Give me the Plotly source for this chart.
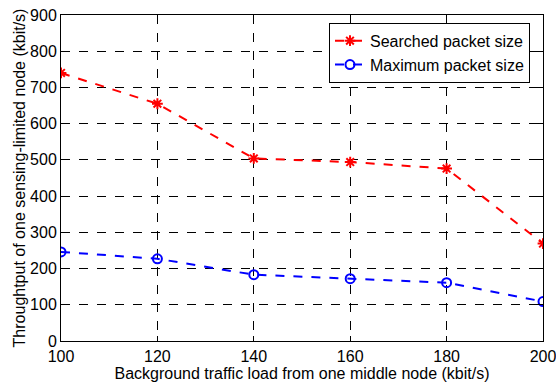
import plotly.graph_objects as go

# Background traffic load (kbit/s) and throughput of the sensing-limited node (kbit/s)
traffic_load = [100, 120, 140, 160, 180, 200]
searched_size = [740, 655, 504, 494, 476, 269]
maximum_size = [246, 227, 183, 172, 161, 109]

x_ticks = [100, 120, 140, 160, 180, 200]
y_ticks = [0, 100, 200, 300, 400, 500, 600, 700, 800, 900]

FONT = "Liberation Sans, Arial, sans-serif"

fig = go.Figure()
fig.add_trace(go.Scatter(
    x=traffic_load, y=searched_size, name="Searched packet size",
    mode="lines+markers",
    line=dict(color="#ff0000", width=2, dash="dash"),
    marker=dict(symbol="asterisk-open", size=9, color="#ff0000",
                line=dict(width=2, color="#ff0000")),
))
fig.add_trace(go.Scatter(
    x=traffic_load, y=maximum_size, name="Maximum packet size",
    mode="lines+markers",
    line=dict(color="#0000ff", width=2, dash="dash"),
    marker=dict(symbol="circle-open", size=9, color="#0000ff",
                line=dict(width=2, color="#0000ff")),
))

axis_common = dict(
    showline=True, linecolor="black", linewidth=1, mirror="ticks",
    ticks="inside", ticklen=5, tickcolor="black",
    showgrid=True, gridcolor="black", griddash="dash", gridwidth=1,
    zeroline=False, ticklabeloverflow="allow", automargin=False,
    tickfont=dict(family=FONT, size=16, color="black"),
    title_font=dict(family=FONT, size=16, color="black"),
)

fig.update_xaxes(
    range=[100, 200], tickvals=x_ticks,
    title_text="Background traffic load from one middle node (kbit/s)",
    title_standoff=0, ticklabelstandoff=1,
    **axis_common,
)
fig.update_yaxes(
    range=[0, 900], tickvals=y_ticks,
    title_text="Throughtput of one sensing-limited node (kbit/s)",
    title_standoff=0,
    **axis_common,
)

fig.update_layout(
    width=556, height=386,
    margin=dict(l=61, r=13, t=15, b=45),
    paper_bgcolor="white", plot_bgcolor="white",
    showlegend=True,
    legend=dict(
        x=0.973, y=0.976, xanchor="right", yanchor="top",
        bgcolor="white", bordercolor="black", borderwidth=1,
        font=dict(family=FONT, size=16, color="black"),
        tracegroupgap=0,
    ),
)

fig.write_html("out.html")
